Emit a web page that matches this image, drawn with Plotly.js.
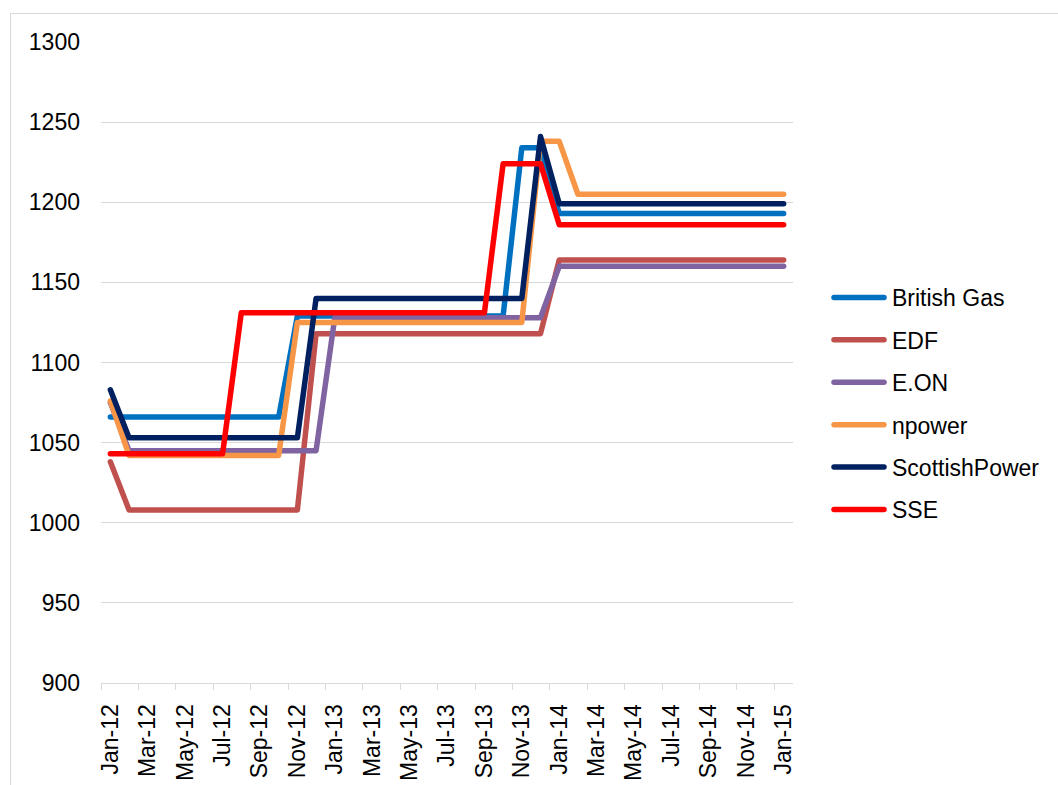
<!DOCTYPE html>
<html>
<head>
<meta charset="utf-8">
<script src="https://cdn.plot.ly/plotly-3.0.1.min.js"></script>
<style>
  html, body { margin: 0; padding: 0; background: #fff; overflow: hidden; }
  #chart { width: 1058px; height: 785px; position: absolute; left: 0; top: 0; }
  #frame { position: absolute; left: 10px; top: 13px; width: 3000px; height: 3000px;
           border: 1px solid #d9d9d9; pointer-events: none; }
  .scatterlayer path.js-line, .legend path.js-line { stroke-linecap: round; stroke-linejoin: round; }
</style>
</head>
<body>
<div id="chart"></div>
<div id="frame"></div>
<script>
// Monthly categories Jan-12 .. Jan-15
const months = ["Jan-12","Feb-12","Mar-12","Apr-12","May-12","Jun-12","Jul-12","Aug-12","Sep-12","Oct-12","Nov-12","Dec-12",
  "Jan-13","Feb-13","Mar-13","Apr-13","May-13","Jun-13","Jul-13","Aug-13","Sep-13","Oct-13","Nov-13","Dec-13",
  "Jan-14","Feb-14","Mar-14","Apr-14","May-14","Jun-14","Jul-14","Aug-14","Sep-14","Oct-14","Nov-14","Dec-14",
  "Jan-15"];

const britishGas = [1066,1066,1066,1066,1066,1066,1066,1066,1066,1066,
  1129,1129,1129,1129,1129,1129,1129,1129,1129,1129,1129,1129,
  1234,1234,
  1193,1193,1193,1193,1193,1193,1193,1193,1193,1193,1193,1193,1193];
const edf = [1038,
  1008,1008,1008,1008,1008,1008,1008,1008,1008,1008,
  1118,1118,1118,1118,1118,1118,1118,1118,1118,1118,1118,1118,1118,
  1164,1164,1164,1164,1164,1164,1164,1164,1164,1164,1164,1164,1164];
const eon = [1075,
  1045,1045,1045,1045,1045,1045,1045,1045,1045,1045,1045,
  1128,1128,1128,1128,1128,1128,1128,1128,1128,1128,1128,1128,
  1160,1160,1160,1160,1160,1160,1160,1160,1160,1160,1160,1160,1160];
const npower = [1076,
  1042,1042,1042,1042,1042,1042,1042,1042,1042,
  1125,1125,1125,1125,1125,1125,1125,1125,1125,1125,1125,1125,1125,
  1238,1238,
  1205,1205,1205,1205,1205,1205,1205,1205,1205,1205,1205,1205];
const scottishPower = [1083,
  1053,1053,1053,1053,1053,1053,1053,1053,1053,1053,
  1140,1140,1140,1140,1140,1140,1140,1140,1140,1140,1140,1140,
  1241,
  1199,1199,1199,1199,1199,1199,1199,1199,1199,1199,1199,1199,1199];
const sse = [1043,1043,1043,1043,1043,1043,1043,
  1131,1131,1131,1131,1131,1131,1131,1131,1131,1131,1131,1131,1131,1131,
  1224,1224,1224,
  1186,1186,1186,1186,1186,1186,1186,1186,1186,1186,1186,1186,1186];

const seriesNames = ["British Gas","EDF","E.ON","npower","ScottishPower","SSE"];
const seriesValues = [britishGas, edf, eon, npower, scottishPower, sse];
const seriesColors = ["#0070C0","#C0504D","#8064A2","#F79646","#002060","#FF0000"];

const xIndex = months.map((m, i) => i);
const labelIdx = xIndex.filter(i => i % 2 === 0);

const traces = seriesNames.map((name, k) => ({
  type: "scatter", mode: "lines", name: name,
  x: xIndex, y: seriesValues[k],
  text: months, hoverinfo: "text+y+name",
  line: { color: seriesColors[k], width: 5.5 },
  legendgroup: "g" + k
}));

const font = { family: "'Liberation Sans', Arial, sans-serif", size: 23, color: "#000" };

const layout = {
  width: 1058, height: 785,
  margin: { l: 101, r: 265, t: 42, b: 102 },
  paper_bgcolor: "rgba(0,0,0,0)", plot_bgcolor: "rgba(0,0,0,0)",
  font: font,
  showlegend: true,
  legend: {
    xref: "container", yref: "container",
    x: 826 / 1058, y: 1 - 276 / 785, xanchor: "left", yanchor: "top",
    font: font, itemwidth: 56, tracegroupgap: 9.5, bgcolor: "rgba(0,0,0,0)"
  },
  xaxis: {
    type: "linear", range: [-0.5, 36.5], fixedrange: true,
    tickmode: "array", tickvals: labelIdx, ticktext: labelIdx.map(i => months[i]),
    tickangle: -90, ticks: "", ticklabelstandoff: 11,
    showgrid: false, zeroline: false,
    showline: true, linecolor: "#d9d9d9", linewidth: 1,
    minor: { tick0: -0.5, dtick: 2, ticks: "outside", ticklen: 6, tickcolor: "#d9d9d9", tickwidth: 1, showgrid: false },
    tickfont: font
  },
  yaxis: {
    range: [900, 1300], dtick: 50, tick0: 900, fixedrange: true,
    showgrid: true, gridcolor: "#d9d9d9", gridwidth: 1,
    zeroline: false, showline: false, ticks: "", ticklabelstandoff: 20,
    tickfont: font
  }
};

Plotly.newPlot("chart", traces, layout, { displayModeBar: false, staticPlot: true }).then(() => {
  document.querySelectorAll(".legend path.js-line").forEach(p => p.setAttribute("d", "M8,0h50"));
});
</script>
</body>
</html>
